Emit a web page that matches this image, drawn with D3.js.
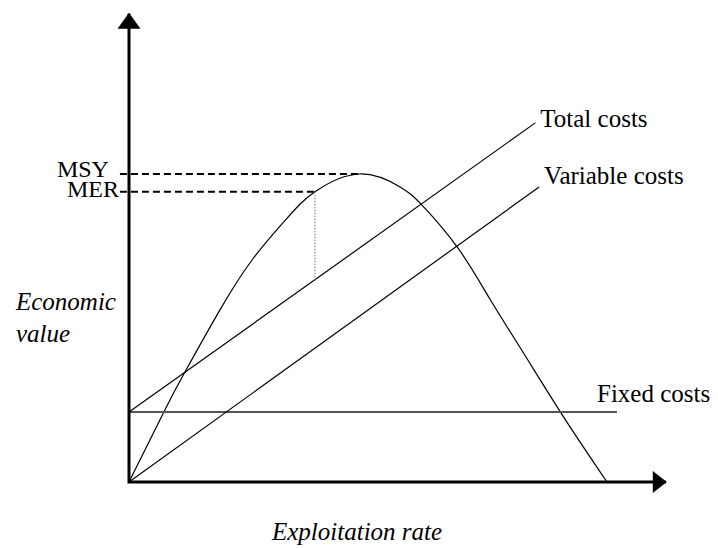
<!DOCTYPE html>
<html>
<head>
<meta charset="utf-8">
<script src="https://cdn.jsdelivr.net/npm/d3@7"></script>
<style>
    body { margin: 0; background: #fff; }
    svg text { font-family: "Liberation Serif", "Times New Roman", serif; fill: #000; }
</style>
</head>
<body>
<div id="chart"></div>
<script>
// values, effort 0..100 (curve end), value 0..100 (MSY)
const revenueEffort = [0, 7.5, 11.7, 19.0, 25.9, 33.1, 38.9, 48.3, 56.7, 61.3, 68.8, 75.5, 82.4, 90.8, 100];
const revenueValue  = [0, 23.4, 35.7, 55.8, 72.4, 85.7, 94.2, 100, 95.8, 89.9, 76.0, 59.4, 42.2, 21.4, 0];

const fixedCosts    = [[0, 22.7], [102.1, 22.7]];
const totalCosts    = [[0, 22.7], [85.0, 116.6]];
const variableCosts = [[0, 0], [85.8, 95.8]];

const msyPoint = [48.3, 100];
const merPoint = [38.9, 94.2];

const axisMax = [112.3, 152];   // where the arrows end
const guideStart = -1.9;        // dashed guides start a bit left of the axis

const width = 718, height = 548;

var svg = d3.select('#chart').append('svg')
    .attr('width', width).attr('height', height);

var x = d3.scaleLinear().domain([0, 100]).range([129, 607]),
    y = d3.scaleLinear().domain([0, 100]).range([482, 174]);

var line = d3.line().x(d => x(d[0])).y(d => y(d[1]));

// revenue curve
svg.append('path')
    .datum(d3.zip(revenueEffort, revenueValue))
    .attr('d', line.curve(d3.curveNatural))
    .attr('fill', 'none').attr('stroke', '#000').attr('stroke-width', 1.2);
line.curve(d3.curveLinear);

// costs
svg.append('path').datum(fixedCosts).attr('d', line)
    .attr('fill', 'none').attr('stroke', '#555').attr('stroke-width', 2);
[totalCosts, variableCosts].forEach(c => {
    svg.append('path').datum(c).attr('d', line)
        .attr('fill', 'none').attr('stroke', '#000').attr('stroke-width', 1.2);
});

// MSY / MER guides
[msyPoint, merPoint].forEach(p => {
    svg.append('path').datum([[guideStart, p[1]], p]).attr('d', line)
        .attr('fill', 'none').attr('stroke', '#000').attr('stroke-width', 2)
        .attr('stroke-dasharray', '7,4');
});
var tc = d3.scaleLinear().domain(totalCosts.map(d => d[0])).range(totalCosts.map(d => d[1]));
svg.append('path').datum([merPoint, [merPoint[0], tc(merPoint[0])]]).attr('d', line)
    .attr('fill', 'none').attr('stroke', '#888').attr('stroke-width', 1.2)
    .attr('stroke-dasharray', '1.5,1.5');

// axes with arrowheads
var ax = svg.append('g').attr('class', 'axes');
ax.append('path').datum([[0, axisMax[1]], [0, 0], [axisMax[0], 0]]).attr('d', line)
    .attr('fill', 'none').attr('stroke', '#000').attr('stroke-width', 3);
var x0 = x(0), y0 = y(0), xt = x(axisMax[0]), yt = y(axisMax[1]);
ax.append('path')
    .attr('d', `M ${x0},${yt - 1} L ${x0 - 11.5},${yt + 15} L ${x0 + 11.5},${yt + 15} Z`);
ax.append('path')
    .attr('d', `M ${xt + 1},${y0} L ${xt - 13},${y0 - 11} L ${xt - 13},${y0 + 11} Z`);

// labels
var fs = 25;
function label(s, px, py, opts) {
    opts = opts || {};
    return svg.append('text')
        .attr('x', px).attr('y', py)
        .attr('font-size', opts.size || fs)
        .attr('text-anchor', opts.anchor || 'start')
        .attr('font-style', opts.italic ? 'italic' : 'normal')
        .text(s);
}
label('Total costs', x(totalCosts[1][0]) + 5, y(totalCosts[1][1]) + 4);
label('Variable costs', x(variableCosts[1][0]) + 5, y(variableCosts[1][1]) - 3);
label('Fixed costs', 597, y(fixedCosts[0][1]) - 10);
label('MSY', x(guideStart) - 11, y(msyPoint[1]) + 3, {anchor: 'end', size: 24});
label('MER', x(guideStart) - 1, y(merPoint[1]) + 5, {anchor: 'end', size: 24});
label('Economic', 16, 310, {italic: true});
label('value', 16, 342, {italic: true});
label('Exploitation rate', 272, 540, {italic: true});
</script>
</body>
</html>
